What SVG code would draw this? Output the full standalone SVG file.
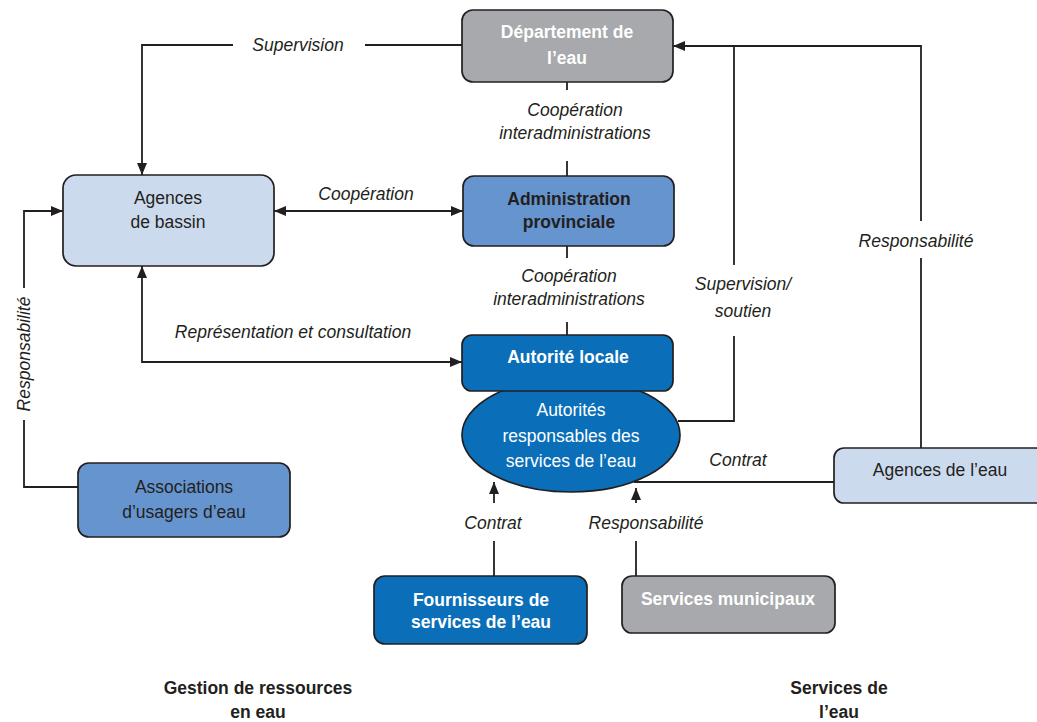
<svg xmlns="http://www.w3.org/2000/svg" width="1037" height="722" viewBox="0 0 1037 722">
<style>
.n{stroke:#231f20;stroke-width:1.7}
.gray{fill:#a7a9ac}
.light{fill:#ccdaee}
.mid{fill:#6694ce}
.dark{fill:#0a6fb8}
.t{font-family:"Liberation Sans",Arial,sans-serif;font-size:17.5px;text-anchor:middle}
.b{font-weight:bold}
.w{fill:#ffffff}
.k{fill:#231f20}
.i{font-style:italic;fill:#231f20}
.c{fill:none;stroke:#231f20;stroke-width:1.8}
</style>
<defs>
<marker id="ah" viewBox="0 0 12 10" refX="12" refY="5" markerWidth="12" markerHeight="10" markerUnits="userSpaceOnUse" orient="auto-start-reverse">
<path d="M0,0 L12,5 L0,10 z" fill="#231f20"/>
</marker>
</defs>
<rect width="1037" height="722" fill="#ffffff"/>
<g id="connectors">
<polyline class="c" points="462,45 365,45"/>
<polyline class="c" points="233,45 142,45 142,175" marker-end="url(#ah)"/>
<line class="c" x1="567" y1="82" x2="567" y2="90"/>
<line class="c" x1="567" y1="161" x2="567" y2="176"/>
<line class="c" x1="274" y1="211" x2="463" y2="211" marker-start="url(#ah)" marker-end="url(#ah)"/>
<line class="c" x1="567" y1="246" x2="567" y2="258"/>
<line class="c" x1="567" y1="322" x2="567" y2="335"/>
<polyline class="c" points="142,266 142,362 462,362" marker-start="url(#ah)" marker-end="url(#ah)"/>
<polyline class="c" points="78,487 24,487 24,420"/>
<polyline class="c" points="24,288 24,211 63,211" marker-end="url(#ah)"/>
<polyline class="c" points="678,421 734,421 734,336"/>
<polyline class="c" points="734,265 734,46"/>
<polyline class="c" points="921,448 921,258"/>
<polyline class="c" points="921,221 921,46 673,46" marker-end="url(#ah)"/>
<line class="c" x1="634" y1="482" x2="834" y2="482"/>
<line class="c" x1="494" y1="576" x2="494" y2="541"/>
<line class="c" x1="494" y1="503" x2="494" y2="482" marker-end="url(#ah)"/>
<line class="c" x1="636" y1="576" x2="636" y2="541"/>
<line class="c" x1="636" y1="503" x2="636" y2="488" marker-end="url(#ah)"/>
</g>
<g id="labels">
<text class="t i" x="298" y="51">Supervision</text>
<text class="t i" x="575" y="116">Coopération</text>
<text class="t i" x="575" y="139">interadministrations</text>
<text class="t i" x="366" y="200">Coopération</text>
<text class="t i" x="569" y="282">Coopération</text>
<text class="t i" x="569" y="305">interadministrations</text>
<text class="t i" x="293" y="338">Représentation et consultation</text>
<text class="t i" x="743" y="290">Supervision/</text>
<text class="t i" x="743" y="317">soutien</text>
<text class="t i" x="916" y="247">Responsabilité</text>
<text class="t i" x="738" y="466">Contrat</text>
<text class="t i" x="493" y="529">Contrat</text>
<text class="t i" x="646" y="529">Responsabilité</text>
<text class="t i" transform="translate(30,354) rotate(-90)" x="0" y="0">Responsabilité</text>
<text class="t b k" x="258" y="694">Gestion de ressources</text>
<text class="t b k" x="258" y="718">en eau</text>
<text class="t b k" x="839" y="694">Services de</text>
<text class="t b k" x="839" y="718">l’eau</text>
</g>
<g id="departement">
<rect class="n gray" x="462" y="10" width="211" height="72" rx="11"/>
<text class="t b w" x="567" y="38">Département de</text>
<text class="t b w" x="567" y="64">l’eau</text>
</g>
<g id="agences-bassin">
<rect class="n light" x="63" y="175" width="211" height="91" rx="13"/>
<text class="t k" x="168" y="204">Agences</text>
<text class="t k" x="168" y="228">de bassin</text>
</g>
<g id="administration">
<rect class="n mid" x="463" y="176" width="211" height="70" rx="11"/>
<text class="t b k" x="569" y="205">Administration</text>
<text class="t b k" x="569" y="228">provinciale</text>
</g>
<g id="autorites">
<ellipse class="n dark" cx="571" cy="435" rx="109" ry="57"/>
<text class="t w" x="571" y="416">Autorités</text>
<text class="t w" x="571" y="442">responsables des</text>
<text class="t w" x="571" y="467">services de l’eau</text>
</g>
<g id="autorite-locale">
<rect class="n dark" x="462" y="335" width="211" height="56" rx="10"/>
<text class="t b w" x="568" y="363">Autorité locale</text>
</g>
<g id="associations">
<rect class="n mid" x="78" y="463" width="212" height="74" rx="11"/>
<text class="t k" x="184" y="493">Associations</text>
<text class="t k" x="184" y="518">d’usagers d’eau</text>
</g>
<g id="agences-eau">
<rect class="n light" x="834" y="448" width="212" height="55" rx="10"/>
<text class="t k" x="940" y="476">Agences de l’eau</text>
</g>
<g id="fournisseurs">
<rect class="n dark" x="374" y="576" width="213" height="68" rx="11"/>
<text class="t b w" x="481" y="606">Fournisseurs de</text>
<text class="t b w" x="481" y="628">services de l’eau</text>
</g>
<g id="services-municipaux">
<rect class="n gray" x="622" y="576" width="213" height="57" rx="10"/>
<text class="t b w" x="728" y="605">Services municipaux</text>
</g>
</svg>
